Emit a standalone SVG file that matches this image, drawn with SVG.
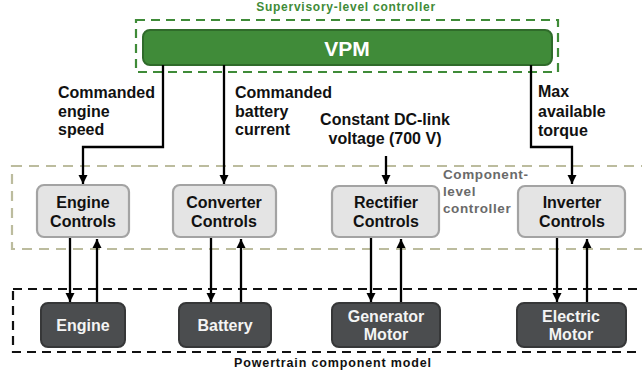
<svg xmlns="http://www.w3.org/2000/svg" width="642" height="379" viewBox="0 0 642 379">
<defs>
<marker id="ah" viewBox="0 0 10 10" refX="10" refY="5" markerWidth="4" markerHeight="4" orient="auto" markerUnits="strokeWidth">
<path d="M0,0 L10,5 L0,10 z" fill="#000"/>
</marker>
<style>
text{font-family:"Liberation Sans",Arial,sans-serif;font-weight:bold}
.lbl{font-size:16px;fill:#111}
.ctl rect{fill:#e4e4e4;stroke:#a3a3a3;stroke-width:2.2}
.ctl text{font-size:16px;fill:#111;text-anchor:middle}
.cmp rect{fill:#4b4d4f;stroke:#363738;stroke-width:2}
.cmp text{font-size:16px;fill:#f4f4f4;text-anchor:middle}
.conn path{fill:none;stroke:#000;stroke-width:2.3;marker-end:url(#ah)}
</style>
</defs>
<rect width="642" height="379" fill="#fff"/>

<g id="supervisory">
<rect x="136" y="20" width="422" height="52" fill="none" stroke="#3f8b38" stroke-width="2.2" stroke-dasharray="9,6"/>
<text x="346" y="11" font-size="12" fill="#3f8b38" text-anchor="middle" letter-spacing="0.75">Supervisory-level controller</text>
</g>

<g id="component-level">
<rect x="12" y="166" width="640" height="83" fill="none" stroke="#bcbc9e" stroke-width="2.2" stroke-dasharray="10,7"/>
<text x="443" y="179" font-size="13.5" fill="#6a6a6a" letter-spacing="0.6">Component-</text>
<text x="443" y="196" font-size="13.5" fill="#6a6a6a" letter-spacing="0.6">level</text>
<text x="443" y="213" font-size="13.5" fill="#6a6a6a" letter-spacing="0.6">controller</text>
</g>

<g id="powertrain">
<rect x="13" y="289" width="640" height="63" fill="none" stroke="#111" stroke-width="2.2" stroke-dasharray="9,6"/>
<text x="333" y="367" font-size="12.5" fill="#111" text-anchor="middle" letter-spacing="0.85">Powertrain component model</text>
</g>

<g id="vpm">
<rect x="143" y="30" width="409" height="35" rx="7" fill="#408b39" stroke="#2f6b2a" stroke-width="2"/>
<text x="347" y="56" font-size="21" fill="#fff" text-anchor="middle">VPM</text>
</g>

<g class="conn" id="connectors">
<path d="M163,65 V147 H83 V184"/>
<path d="M224,65 V184"/>
<path d="M531,65 V147 H572 V184"/>
<path d="M386,156 V184"/>
<path d="M70,238 V302"/>
<path d="M97,303 V239"/>
<path d="M211,238 V302"/>
<path d="M241,303 V239"/>
<path d="M371,238 V302"/>
<path d="M401,303 V239"/>
<path d="M557,238 V302"/>
<path d="M587,303 V239"/>
</g>

<g id="labels">
<text class="lbl" x="58" y="98">Commanded</text>
<text class="lbl" x="58" y="117">engine</text>
<text class="lbl" x="58" y="135">speed</text>
<text class="lbl" x="235" y="98">Commanded</text>
<text class="lbl" x="235" y="117">battery</text>
<text class="lbl" x="235" y="135">current</text>
<text class="lbl" x="385" y="125" text-anchor="middle">Constant DC-link</text>
<text class="lbl" x="385" y="144" text-anchor="middle">voltage (700 V)</text>
<text class="lbl" x="538" y="97">Max</text>
<text class="lbl" x="538" y="117">available</text>
<text class="lbl" x="538" y="136">torque</text>
</g>

<g id="engine-controls" class="ctl">
<rect x="37" y="185" width="92" height="52" rx="7"/>
<text x="83" y="208">Engine</text>
<text x="83" y="227">Controls</text>
</g>
<g id="converter-controls" class="ctl">
<rect x="173" y="185" width="103" height="52" rx="7"/>
<text x="224" y="208">Converter</text>
<text x="224" y="227">Controls</text>
</g>
<g id="rectifier-controls" class="ctl">
<rect x="332" y="186" width="107" height="51" rx="7"/>
<text x="386" y="208">Rectifier</text>
<text x="386" y="227">Controls</text>
</g>
<g id="inverter-controls" class="ctl">
<rect x="518" y="186" width="107" height="51" rx="7"/>
<text x="572" y="208">Inverter</text>
<text x="572" y="227">Controls</text>
</g>

<g id="engine" class="cmp">
<rect x="41" y="303" width="84" height="44" rx="7"/>
<text x="83" y="331">Engine</text>
</g>
<g id="battery" class="cmp">
<rect x="179" y="303" width="92" height="44" rx="7"/>
<text x="225" y="331">Battery</text>
</g>
<g id="generator-motor" class="cmp">
<rect x="332" y="303" width="108" height="44" rx="7"/>
<text x="386" y="322">Generator</text>
<text x="386" y="340">Motor</text>
</g>
<g id="electric-motor" class="cmp">
<rect x="517" y="303" width="109" height="44" rx="7"/>
<text x="571" y="322">Electric</text>
<text x="571" y="340">Motor</text>
</g>
</svg>
